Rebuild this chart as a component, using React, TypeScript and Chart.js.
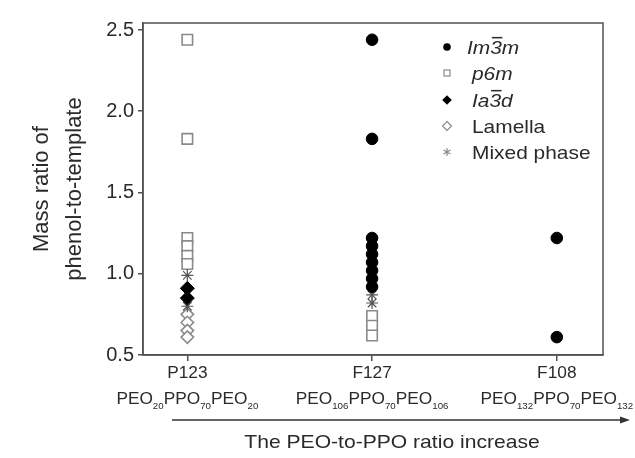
import React, { useEffect, useRef } from 'react';
import { Chart, registerables } from 'chart.js';

Chart.register(...registerables);

// ---- data ----
const categories = ['P123', 'F127', 'F108'];
const peoSub = ['20', '106', '132'];
const ppoSub = ['70', '70', '70'];
const yTicks = [0.5, 1.0, 1.5, 2.0, 2.5];

// Im3m (filled circle)
const im3mF127 = [2.44, 1.83, 1.22, 1.17, 1.12, 1.07, 1.02, 0.97, 0.92];
const im3mF108 = [1.22, 0.61];
// p6m (open square)
const p6mP123 = [2.44, 1.83, 1.22, 1.17, 1.11, 1.06];
const p6mF127 = [0.74, 0.68, 0.62];
// Ia3d (filled diamond)
const ia3dP123 = [0.91, 0.85];
// Lamella (open diamond)
const lamellaP123 = [0.75, 0.70, 0.65, 0.61];
// Mixed phase (asterisk)
const mixedP123 = [0.99, 0.80];
const mixedF127 = [0.87, 0.82];

const FONT = '"Liberation Sans", Arial, sans-serif';
const TEXT = '#2a2a2a';
const AXIS = '#505050';
const GREY = '#8a8a8a';

const pts = (xi: number, ys: number[]) => ys.map((y) => ({ x: xi, y }));

function drawParts(ctx: CanvasRenderingContext2D, parts: { t: string; size: number; dy: number; italic?: boolean; over?: boolean }[], x: number, y: number, align: 'left' | 'center', sx: number) {
  const font = (p: any) => `${p.italic ? 'italic ' : ''}${p.size}px ${FONT}`;
  let total = 0;
  for (const p of parts) { ctx.font = font(p); total += ctx.measureText(p.t).width; }
  ctx.save();
  ctx.translate(x, y);
  ctx.scale(sx, 1);
  let cx = align === 'center' ? -total / 2 : 0;
  ctx.textBaseline = 'alphabetic';
  ctx.textAlign = 'left';
  for (const p of parts) {
    ctx.font = font(p);
    const w = ctx.measureText(p.t).width;
    ctx.fillText(p.t, cx, p.dy);
    if (p.over) {
      ctx.beginPath();
      ctx.lineWidth = 1.5;
      ctx.moveTo(cx + 1.5, p.dy - p.size * 0.86);
      ctx.lineTo(cx + w + 0.5, p.dy - p.size * 0.86);
      ctx.stroke();
    }
    cx += w;
  }
  ctx.restore();
}

const overlay = {
  id: 'overlay',
  afterDraw(chart: any) {
    const { ctx, chartArea: a, scales } = chart;
    ctx.save();
    // frame
    ctx.strokeStyle = AXIS;
    ctx.lineWidth = 1.5;
    ctx.strokeRect(a.left, a.top, a.right - a.left, a.bottom - a.top);

    ctx.fillStyle = TEXT;
    ctx.strokeStyle = TEXT;
    // x category labels
    categories.forEach((c, i) => {
      const px = scales.x.getPixelForValue(i);
      drawParts(ctx, [{ t: c, size: 16, dy: 0 }], px, 378, 'center', 1.08);
      drawParts(ctx, [
        { t: 'PEO', size: 16, dy: 0 },
        { t: peoSub[i], size: 9, dy: 5 },
        { t: 'PPO', size: 16, dy: 0 },
        { t: ppoSub[i], size: 9, dy: 5 },
        { t: 'PEO', size: 16, dy: 0 },
        { t: peoSub[i], size: 9, dy: 5 },
      ], px, 404, 'center', 1.08);
    });

    // arrow
    ctx.strokeStyle = '#333';
    ctx.fillStyle = '#333';
    ctx.lineWidth = 1.5;
    ctx.beginPath();
    ctx.moveTo(172, 420);
    ctx.lineTo(622, 420);
    ctx.stroke();
    ctx.beginPath();
    ctx.moveTo(630, 420);
    ctx.lineTo(620, 416.5);
    ctx.lineTo(620, 423.5);
    ctx.closePath();
    ctx.fill();

    ctx.fillStyle = TEXT;
    drawParts(ctx, [{ t: 'The PEO-to-PPO ratio increase', size: 19, dy: 0 }], 392, 448, 'center', 1.11);

    // y title
    ctx.save();
    ctx.translate(0, (a.top + a.bottom) / 2);
    ctx.rotate(-Math.PI / 2);
    ctx.font = `22px ${FONT}`;
    ctx.textAlign = 'center';
    ctx.textBaseline = 'middle';
    ctx.fillStyle = TEXT;
    ctx.fillText('Mass ratio of', 0, 42);
    ctx.fillText('phenol-to-template', 0, 75);
    ctx.restore();

    // legend
    const mx = 447;
    const rows = [47, 73, 100, 126, 152];
    // Im3m
    ctx.fillStyle = '#000';
    ctx.beginPath(); ctx.arc(mx, rows[0], 3.8, 0, Math.PI * 2); ctx.fill();
    // p6m
    ctx.strokeStyle = GREY; ctx.lineWidth = 1.2;
    ctx.strokeRect(mx - 3, rows[1] - 3, 6, 6);
    // Ia3d
    ctx.fillStyle = '#000';
    ctx.beginPath();
    ctx.moveTo(mx, rows[2] - 4.8); ctx.lineTo(mx + 4.8, rows[2]); ctx.lineTo(mx, rows[2] + 4.8); ctx.lineTo(mx - 4.8, rows[2]);
    ctx.closePath(); ctx.fill();
    // Lamella
    ctx.strokeStyle = GREY;
    ctx.beginPath();
    ctx.moveTo(mx, rows[3] - 4.5); ctx.lineTo(mx + 4.5, rows[3]); ctx.lineTo(mx, rows[3] + 4.5); ctx.lineTo(mx - 4.5, rows[3]);
    ctx.closePath(); ctx.stroke();
    // Mixed
    ctx.beginPath();
    for (let k = 0; k < 3; k++) {
      const ang = Math.PI / 2 + (k * Math.PI) / 3;
      ctx.moveTo(mx - 4 * Math.cos(ang), rows[4] - 4 * Math.sin(ang));
      ctx.lineTo(mx + 4 * Math.cos(ang), rows[4] + 4 * Math.sin(ang));
    }
    ctx.stroke();

    ctx.fillStyle = TEXT;
    ctx.strokeStyle = TEXT;
    const ls = 19;
    drawParts(ctx, [
      { t: 'Im', size: ls, dy: 0, italic: true },
      { t: '3', size: ls, dy: 0, italic: true, over: true },
      { t: 'm', size: ls, dy: 0, italic: true },
    ], 467, rows[0] + 7, 'left', 1.1);
    drawParts(ctx, [{ t: 'p6m', size: ls, dy: 0, italic: true }], 472, rows[1] + 7, 'left', 1.1);
    drawParts(ctx, [
      { t: 'Ia', size: ls, dy: 0, italic: true },
      { t: '3', size: ls, dy: 0, italic: true, over: true },
      { t: 'd', size: ls, dy: 0, italic: true },
    ], 472, rows[2] + 7, 'left', 1.1);
    drawParts(ctx, [{ t: 'Lamella', size: ls, dy: 0 }], 472, rows[3] + 7, 'left', 1.1);
    drawParts(ctx, [{ t: 'Mixed phase', size: ls, dy: 0 }], 472, rows[4] + 7, 'left', 1.1);

    ctx.restore();
  },
};

export default function App() {
  const ref = useRef<HTMLCanvasElement>(null);
  useEffect(() => {
    if (!ref.current) return;
    const chart = new Chart(ref.current, {
      type: 'scatter',
      data: {
        datasets: [
          {
            label: 'Im3m',
            data: [...pts(1, im3mF127), ...pts(2, im3mF108)],
            pointStyle: 'circle',
            pointRadius: 5.8,
            backgroundColor: '#000',
            borderColor: '#000',
            borderWidth: 1,
          },
          {
            label: 'Ia3d',
            data: pts(0, ia3dP123),
            pointStyle: 'rectRot',
            pointRadius: 7,
            backgroundColor: '#000',
            borderColor: '#000',
            borderWidth: 1,
          },
          {
            label: 'Mixed phase',
            data: [...pts(0, mixedP123), ...pts(1, mixedF127)],
            pointStyle: 'star',
            pointRadius: 6,
            backgroundColor: 'rgba(0,0,0,0)',
            borderColor: '#555',
            borderWidth: 1.2,
          },
          {
            label: 'p6m',
            data: [...pts(0, p6mP123), ...pts(1, p6mF127)],
            pointStyle: 'rect',
            pointRadius: 7.4,
            backgroundColor: '#fff',
            borderColor: GREY,
            borderWidth: 1.6,
          },
          {
            label: 'Lamella',
            data: pts(0, lamellaP123),
            pointStyle: 'rectRot',
            pointRadius: 6.2,
            backgroundColor: '#fff',
            borderColor: GREY,
            borderWidth: 1.6,
          },
        ],
      },
      options: {
        animation: false,
        responsive: false,
        events: [],
        layout: { padding: { left: 0, top: 23, right: 32, bottom: 97 } },
        plugins: { legend: { display: false }, tooltip: { enabled: false } },
        scales: {
          x: {
            type: 'linear',
            min: -0.24,
            max: 2.25,
            afterBuildTicks: (s: any) => { s.ticks = categories.map((_, i) => ({ value: i })); },
            afterFit: (s: any) => { s.height = 6; },
            ticks: { display: false },
            grid: { drawOnChartArea: false, drawTicks: true, tickLength: 6, color: AXIS, lineWidth: 1.5 },
            border: { display: true, color: AXIS, width: 1.5 },
          },
          y: {
            type: 'linear',
            min: 0.5,
            max: 2.543,
            afterBuildTicks: (s: any) => { s.ticks = yTicks.map((v) => ({ value: v })); },
            afterFit: (s: any) => { s.width = 143; },
            ticks: {
              callback: (v: any) => Number(v).toFixed(1),
              font: { family: FONT, size: 20 },
              color: TEXT,
              padding: 4,
            },
            grid: { drawOnChartArea: false, drawTicks: true, tickLength: 5, color: AXIS, lineWidth: 1.5 },
            border: { display: true, color: AXIS, width: 1.5 },
          },
        },
      },
      plugins: [overlay],
    });
    return () => chart.destroy();
  }, []);
  return (
    <div style={{ position: 'fixed', left: 0, top: 0, width: 635, height: 458, background: '#fff' }}>
      <canvas ref={ref} width={635} height={458} />
    </div>
  );
}
